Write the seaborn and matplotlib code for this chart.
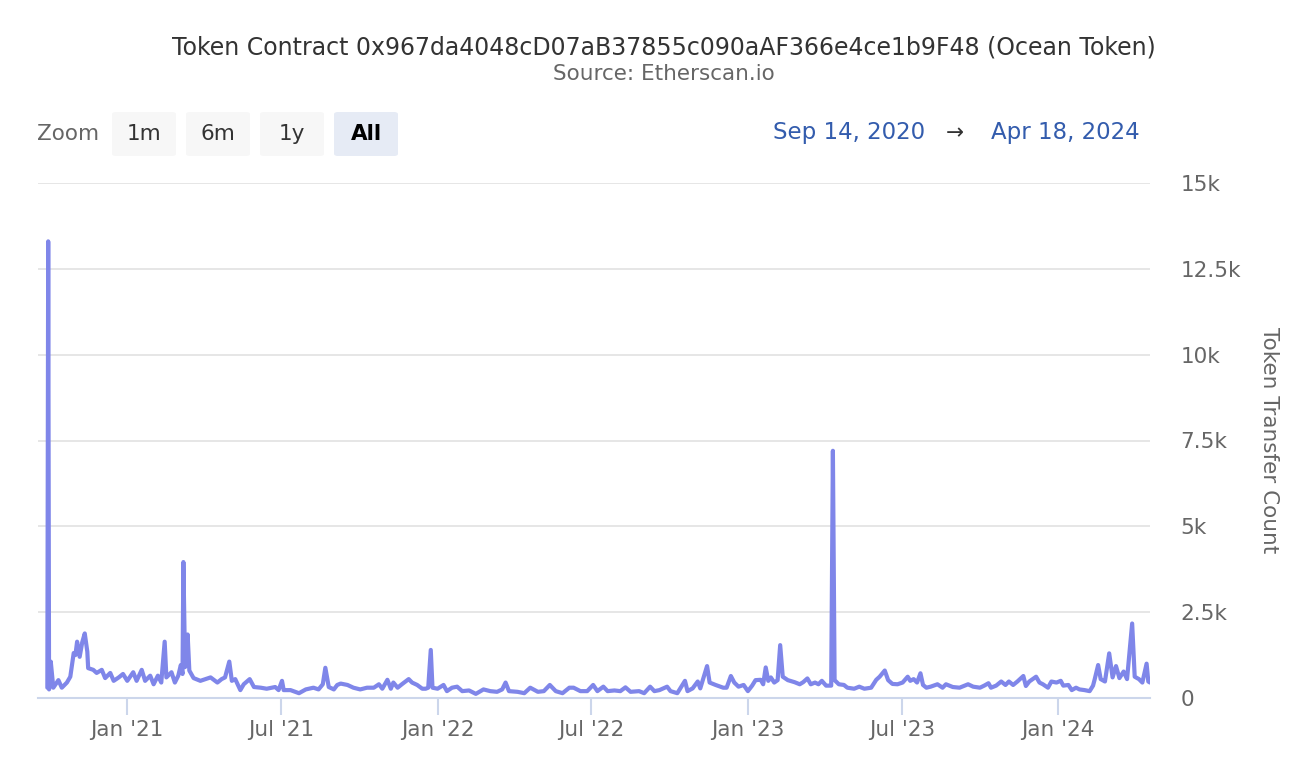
import pandas as pd
import matplotlib
matplotlib.use('Agg')
import matplotlib.pyplot as plt
import matplotlib.dates as mdates
from matplotlib.patches import FancyBboxPatch
from matplotlib.ticker import FuncFormatter, MultipleLocator
import seaborn as sns

# daily token transfer counts (month-day per year)
days_2020 = ["09-29", "09-30", "10-01", "10-03", "10-06", "10-12", "10-16", "10-22", "10-26", "10-30",
             "11-01", "11-03", "11-06", "11-09", "11-12", "11-15", "11-16", "11-22", "11-26", "12-02",
             "12-06", "12-12", "12-16", "12-22", "12-27"]
counts_2020 = [300, 13300, 250, 1060, 300, 520, 300, 450, 620, 1310,
               1250, 1640, 1200, 1620, 1880, 1350, 870, 820, 730, 820,
               580, 730, 500, 600, 700]

days_2021 = ["01-01", "01-08", "01-12", "01-18", "01-22", "01-28", "02-01", "02-06", "02-10", "02-14",
             "02-16", "02-22", "02-26", "03-02", "03-05", "03-07", "03-08", "03-10", "03-13", "03-15",
             "03-20", "03-28", "04-03", "04-09", "04-17", "04-22", "04-26", "05-01", "05-04", "05-08",
             "05-14", "05-18", "05-25", "05-30", "06-07", "06-14", "06-24", "06-28", "07-02", "07-04",
             "07-12", "07-22", "07-30", "08-08", "08-14", "08-19", "08-22", "08-26", "09-01", "09-05",
             "09-09", "09-17", "09-24", "10-02", "10-10", "10-18", "10-24", "10-28", "11-03", "11-07",
             "11-10", "11-15", "11-20", "11-28", "12-02", "12-08", "12-14", "12-18", "12-21", "12-24",
             "12-26"]
counts_2021 = [500, 750, 500, 820, 500, 650, 400, 650, 450, 1640,
               600, 750, 450, 650, 960, 700, 3960, 900, 1850, 800,
               580, 500, 550, 600, 450, 550, 600, 1060, 500, 550,
               230, 400, 550, 320, 300, 270, 320, 230, 500, 230,
               230, 140, 250, 300, 250, 400, 880, 320, 250, 380,
               420, 380, 300, 250, 300, 300, 400, 270, 530, 270,
               450, 300, 400, 550, 450, 380, 270, 270, 300, 1400,
               300]

days_2022 = ["01-01", "01-08", "01-12", "01-18", "01-24", "01-30", "02-07", "02-15", "02-24", "03-04",
             "03-12", "03-18", "03-22", "03-26", "04-05", "04-13", "04-20", "04-29", "05-06", "05-13",
             "05-20", "05-28", "06-05", "06-10", "06-18", "06-26", "07-03", "07-08", "07-15", "07-20",
             "07-28", "08-04", "08-10", "08-16", "08-26", "09-01", "09-08", "09-13", "09-19", "09-28",
             "10-02", "10-10", "10-19", "10-22", "10-28", "11-03", "11-06", "11-14", "11-17", "11-24",
             "12-03", "12-07", "12-12", "12-16", "12-21", "12-27"]
counts_2022 = [270, 380, 200, 300, 330, 200, 220, 120, 250, 200,
               180, 250, 450, 200, 180, 140, 300, 180, 200, 380,
               200, 140, 300, 300, 200, 200, 380, 200, 330, 200,
               220, 200, 310, 180, 200, 140, 330, 200, 230, 330,
               200, 140, 500, 200, 280, 480, 280, 930, 450, 380,
               300, 300, 640, 450, 330, 380]

days_2023 = ["01-01", "01-06", "01-10", "01-16", "01-19", "01-22", "01-25", "01-28", "02-01", "02-05",
             "02-08", "02-11", "02-17", "02-25", "03-03", "03-07", "03-12", "03-16", "03-21", "03-25",
             "03-29", "04-03", "04-09", "04-11", "04-13", "04-18", "04-24", "04-28", "05-06", "05-12",
             "05-18", "05-26", "06-01", "06-05", "06-11", "06-15", "06-20", "06-26", "07-02", "07-08",
             "07-11", "07-15", "07-19", "07-23", "07-26", "07-30", "08-04", "08-12", "08-18", "08-22",
             "08-30", "09-07", "09-17", "09-23", "10-01", "10-06", "10-11", "10-14", "10-20", "10-26",
             "10-31", "11-04", "11-09", "11-14", "11-21", "11-24", "11-28", "12-02", "12-06", "12-10",
             "12-14", "12-20", "12-24", "12-30"]
counts_2023 = [200, 360, 520, 530, 400, 890, 500, 600, 450, 520,
               1540, 620, 520, 460, 400, 460, 570, 400, 450, 400,
               500, 360, 360, 7200, 520, 400, 380, 300, 270, 330,
               270, 300, 530, 620, 800, 520, 410, 400, 450, 620,
               500, 550, 450, 720, 380, 300, 330, 400, 300, 400,
               320, 300, 400, 330, 300, 360, 430, 300, 360, 480,
               380, 480, 380, 480, 640, 350, 480, 550, 620, 450,
               400, 300, 480, 450]

days_2024 = ["01-04", "01-07", "01-13", "01-17", "01-22", "01-26", "02-01", "02-07", "02-11", "02-13",
             "02-17", "02-20", "02-25", "03-01", "03-05", "03-09", "03-13", "03-18", "03-22", "03-28",
             "03-31", "04-05", "04-09", "04-14", "04-16", "04-18"]
counts_2024 = [500, 360, 380, 230, 300, 250, 230, 200, 360, 550,
               960, 550, 480, 1300, 600, 930, 580, 770, 550, 2170,
               620, 550, 450, 1000, 480, 450]

y_ticks = [0, 2500, 5000, 7500, 10000, 12500, 15000]

dates = ([f"2020-{d}" for d in days_2020] + [f"2021-{d}" for d in days_2021] +
         [f"2022-{d}" for d in days_2022] + [f"2023-{d}" for d in days_2023] +
         [f"2024-{d}" for d in days_2024])
counts = counts_2020 + counts_2021 + counts_2022 + counts_2023 + counts_2024
df = pd.DataFrame({'date': pd.to_datetime(dates), 'count': counts})

sns.set_theme(style='white')
plt.rcParams['font.family'] = ['DejaVu Sans']

W, H = 1304, 780
LINE = '#7f86e9'
GREY = '#666666'


def fx(x):
    return x / W


def fy(y):
    return 1 - y / H


fig = plt.figure(figsize=(W / 100, H / 100), dpi=100)
ax = fig.add_axes([fx(38), fy(698), (1150 - 38) / W, (698 - 183) / H])

sns.lineplot(data=df, x='date', y='count', ax=ax, color=LINE, linewidth=3.0)

ax.set_xlim(pd.Timestamp('2020-09-18'), pd.Timestamp('2024-04-18'))
ax.set_ylim(y_ticks[0], y_ticks[-1])
ax.yaxis.set_major_locator(MultipleLocator(2500))
ax.yaxis.set_major_formatter(FuncFormatter(lambda v, p: '0' if v == 0 else f'{v / 1000:g}k'))
ax.xaxis.set_major_locator(mdates.MonthLocator(bymonth=[1, 7]))
ax.xaxis.set_major_formatter(mdates.DateFormatter("%b '%y"))

ax.yaxis.tick_right()
ax.yaxis.grid(True, color='#e6e6e6', linewidth=1.4)
ax.xaxis.grid(False)
ax.set_axisbelow(True)
for side in ['top', 'left', 'right']:
    ax.spines[side].set_visible(False)
ax.spines['bottom'].set_color('#ccd6eb')
ax.spines['bottom'].set_linewidth(1.5)

ax.tick_params(axis='x', length=12, width=1.5, color='#ccd6eb', labelsize=15.5,
               labelcolor=GREY, pad=4, bottom=True)
ax.tick_params(axis='y', length=0, pad=22, labelsize=15.5, labelcolor=GREY)
ax.set_xlabel('')
ax.set_ylabel('')

fig.text(fx(1269), fy(440), 'Token Transfer Count', rotation=270, ha='center', va='center',
         fontsize=15.5, color=GREY)

# title block
fig.text(fx(664), fy(47), 'Token Contract 0x967da4048cD07aB37855c090aAF366e4ce1b9F48 (Ocean Token)',
         ha='center', va='center', fontsize=17, color='#333333')
fig.text(fx(664), fy(74), 'Source: Etherscan.io', ha='center', va='center', fontsize=15.5, color=GREY)

# range selector buttons
fig.text(fx(37), fy(134), 'Zoom', ha='left', va='center', fontsize=15.5, color=GREY)
buttons = ['1m', '6m', '1y', 'All']
lefts = [112, 186, 260, 334]
for label, left in zip(buttons, lefts):
    active = label == 'All'
    box = FancyBboxPatch((fx(left), fy(156)), 64 / W, 44 / H,
                         boxstyle='round,pad=0,rounding_size=0.003', transform=fig.transFigure,
                         facecolor='#e6ebf5' if active else '#f7f7f7', edgecolor='none')
    fig.add_artist(box)
    fig.text(fx(left + 32), fy(134), label, ha='center', va='center', fontsize=15.5,
             color='#000000' if active else '#333333', fontweight='bold' if active else 'normal')

fig.text(fx(925), fy(133), 'Sep 14, 2020', ha='right', va='center', fontsize=16.5, color='#335cad')
fig.text(fx(955), fy(133), '→', ha='center', va='center', fontsize=15.5, color='#333333')
fig.text(fx(1140), fy(133), 'Apr 18, 2024', ha='right', va='center', fontsize=16.5, color='#335cad')

fig.savefig('out.png', dpi=100)
plt.close(fig)
